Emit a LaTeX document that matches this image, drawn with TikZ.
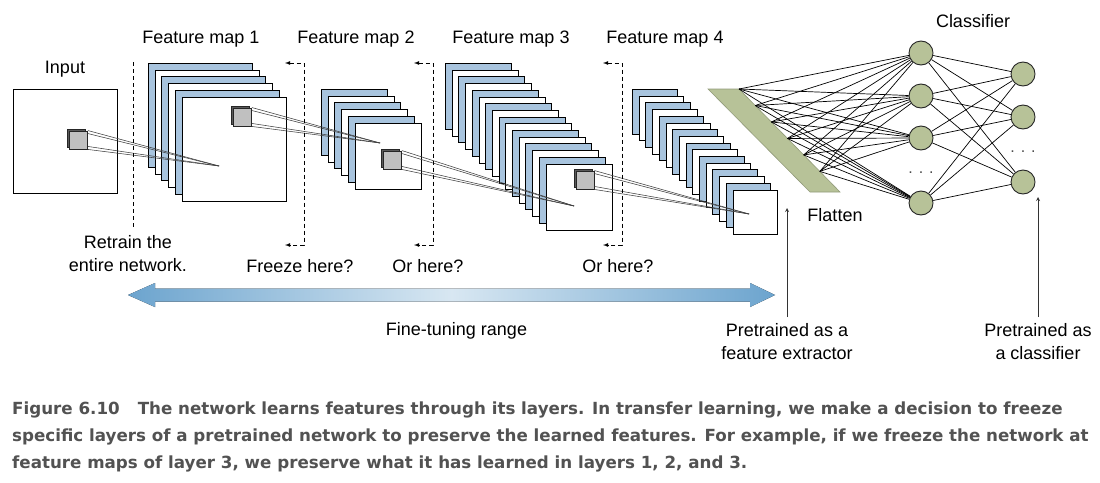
\documentclass[tikz,border=0pt]{standalone}
\usepackage{fontspec}
\setmainfont{Liberation Sans}
\newfontfamily\captionfont{DejaVu Sans}
\usetikzlibrary{arrows, positioning, calc}

\definecolor{mapblue}{RGB}{168,196,222}
\definecolor{flatgreen}{RGB}{183,194,152}
\definecolor{cubegray}{RGB}{192,192,192}
\definecolor{rangeblue}{RGB}{108,164,206}
\definecolor{rangelight}{RGB}{216,231,242}
\definecolor{capgray}{RGB}{82,82,82}

\tikzstyle{txt} = [font=\fontsize{18}{23}\selectfont, align=center, inner sep=0pt]
\tikzstyle{ellip} = [font=\fontsize{16}{16}\selectfont, text=black!70, inner sep=0pt]
\tikzstyle{sheet} = [draw=black, line width=0.9pt]
\tikzstyle{cube} = [draw=black!85, fill=cubegray, line width=0.9pt,
                    minimum size=18pt, inner sep=0pt]
\tikzstyle{ray} = [draw=black!75, line width=0.55pt]
\tikzstyle{cut} = [dash pattern=on 4pt off 3pt, line width=0.8pt]
\tikzstyle{freeze} = [cut, <->, >=latex]
\tikzstyle{neuron} = [circle, draw=black!85, fill=flatgreen, line width=0.9pt,
                      minimum size=24pt, inner sep=0pt]
\tikzstyle{wire} = [line width=0.7pt]
\tikzstyle{arrow} = [line width=0.8pt, draw=black!80, ->, >=stealth]

% stack of sheets: name, back x, back y, size, count
\newcommand{\mapstack}[5]{
  \foreach \i in {1,...,#5}{
    \ifodd\i \def\sfill{mapblue}\else \def\sfill{white}\fi
    \node[sheet, fill=\sfill, minimum size=#4pt, inner sep=0pt,
          anchor=north west] (#1-\i) at ({#2+(\i-1)*6.7},{#3+(\i-1)*6.7}) {};
  }
}

\begin{document}
\begin{tikzpicture}[x=1pt, y=-1pt]
\fill[white] (0,0) rectangle (1100,482);
\useasboundingbox (0,0) rectangle (1100,482);

% input and feature maps
\node[sheet, minimum size=104pt, inner sep=0pt] (input) at (65,141) {};
\mapstack{fm1}{148}{63}{104}{6}
\mapstack{fm2}{321}{89}{66}{6}
\mapstack{fm3}{445}{63}{66}{16}
\mapstack{fm4}{632}{89}{44.5}{16}

\foreach \n/\x/\y in {0/78.5/140, 1/242.5/117, 2/392.5/160, 3/585/180}{
  \node[cube, fill=black!65] at (\x-1.8,\y-1.8) {};
  \node[cube] (cube\n) at (\x,\y) {};
}
\coordinate (apex1) at (219,166);
\coordinate (apex2) at (380,143);
\coordinate (apex3) at (574,206);
\coordinate (apex4) at (749,214);
\foreach \c/\a in {0/1, 1/2, 2/3, 3/4}{
  \draw[ray] (cube\c.north east) -- (apex\a);
  \draw[ray] ($(cube\c.north east)+(0,3)$) -- (apex\a);
  \draw[ray] (cube\c.south east) -- (apex\a);
  \draw[ray] ($(cube\c.south east)+(0,-3)$) -- (apex\a);
}

% where to cut
\coordinate (cut0t) at (133,62);
\coordinate (cut0b) at (133,227);
\draw[cut] (cut0t) -- (cut0b);
\foreach \n/\x in {1/304, 2/433, 3/622}{
  \coordinate (fzt\n) at (\x,63);
  \coordinate (fzb\n) at (\x,245);
  \draw[freeze] ($(fzt\n)+(-19,0)$) -- (fzt\n) -- (fzb\n) -- ($(fzb\n)+(-19,0)$);
}

\node[txt, anchor=base] (inputlbl) at (65,73.3) {Input};
\node[txt, anchor=base] (fm1lbl) at (201,43.5) {Feature map 1};
\node[txt, anchor=base] (fm2lbl) at (356,43.5) {Feature map 2};
\node[txt, anchor=base] (fm3lbl) at (511,43.5) {Feature map 3};
\node[txt, anchor=base] (fm4lbl) at (665,43.5) {Feature map 4};
\node[txt, anchor=north] (retrain) at (128,235) {Retrain the\\entire network.};
\node[txt, anchor=base] (freeze1) at (300,272) {Freeze here?};
\node[txt, anchor=base] (freeze2) at (428,272) {Or here?};
\node[txt, anchor=base] (freeze3) at (618,272) {Or here?};

% flatten and classifier
\coordinate (flA) at (708,89);
\coordinate (flB) at (739,89);
\coordinate (flC) at (840,192);
\coordinate (flD) at (810,192);
\draw[draw=flatgreen!80!black, fill=flatgreen, line width=0.6pt]
  (flA) -- (flB) -- (flC) -- (flD) -- cycle;
\foreach \s/\t in {1/0, 2/0.16, 3/0.32, 4/0.48, 5/0.64, 6/0.8}
  \coordinate (fl\s) at ($(flB)!\t!(flC)$);
\node[txt, anchor=base] (flatlbl) at (835,221.7) {Flatten};

\foreach \h/\y in {1/53, 2/96, 3/138, 4/203}
  \node[neuron] (h\h) at (921,\y) {};
\node[ellip] (hdots) at (921,173) {. . .};
\foreach \o/\y in {1/74, 2/117, 3/182}
  \node[neuron] (o\o) at (1023,\y) {};
\node[ellip] (odots) at (1023,152) {. . .};
\foreach \s in {1,...,6}
  \foreach \h in {1,...,4}
    \draw[wire] (fl\s) -- (h\h);
\foreach \h in {1,...,4}
  \foreach \o in {1,2,3}
    \draw[wire] (h\h) -- (o\o);
\node[txt, anchor=base] (classlbl) at (973,27.7) {Classifier};

% fine-tuning range
\coordinate (rangeL) at (128,295);
\coordinate (rangeR) at (775,295);
\fill[left color=rangeblue, right color=rangeblue, middle color=rangelight]
  (rangeL) -- ++(27,-12) -- ++(0,5.5) -- ($(rangeR)+(-25,-6.5)$) -- ++(0,-5.5)
  -- (rangeR) -- ++(-25,12) -- ++(0,-5.5) -- ($(rangeL)+(27,6.5)$) -- ++(0,5.5)
  -- cycle;
\node[txt, anchor=base] (rangelbl) at (456.5,335) {Fine-tuning range};

\node[txt, anchor=north] (extractor) at (787,323) {Pretrained as a\\feature extractor};
\coordinate (extractortip) at (787,208);
\draw[arrow] ([yshift=6pt]extractor.north) -- (extractortip);
\node[txt, anchor=north] (classifier) at (1038,323) {Pretrained as\\a classifier};
\coordinate (classifiertip) at (1038,197);
\draw[arrow] ([yshift=6pt]classifier.north) -- (classifiertip);

\node[anchor=north west, align=left, inner sep=0pt, text=capgray,
      font=\captionfont\bfseries\fontsize{16.7}{27}\selectfont] (caption) at (12,402)
  {Figure 6.10\hspace{18pt}The network learns features through its layers. In transfer learning, we make a decision to freeze\\
   specific layers of a pretrained network to preserve the learned features. For example, if we freeze the network at\\
   feature maps of layer 3, we preserve what it has learned in layers 1, 2, and 3.};
\end{tikzpicture}
\end{document}
